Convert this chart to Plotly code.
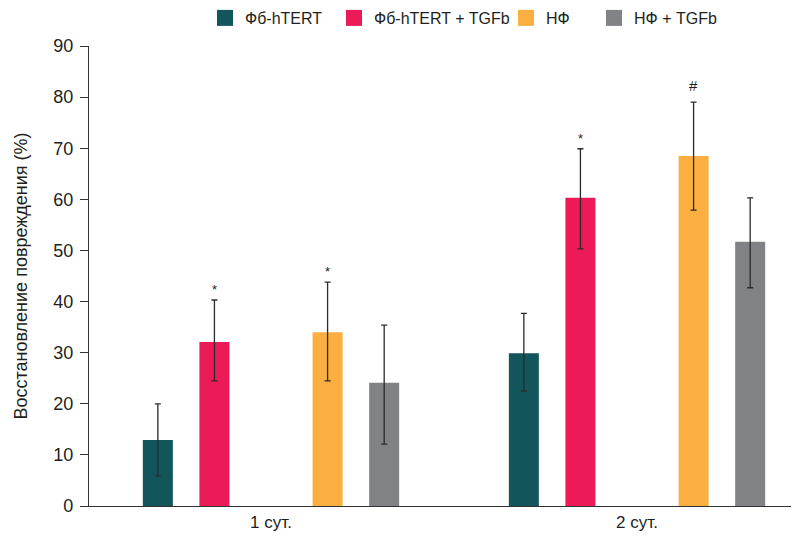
import plotly.graph_objects as go

days = ["1 сут.", "2 сут."]
series = ["Фб-hTERT", "Фб-hTERT + TGFb", "НФ", "НФ + TGFb"]
colors = ["#12555A", "#EC1A56", "#FAAF40", "#818285"]

values = {
    "Фб-hTERT": [12.9, 29.9],
    "Фб-hTERT + TGFb": [32.1, 60.3],
    "НФ": [34.0, 68.5],
    "НФ + TGFb": [24.1, 51.7],
}
err_plus = {
    "Фб-hTERT": [7.1, 7.8],
    "Фб-hTERT + TGFb": [8.2, 9.6],
    "НФ": [9.8, 10.5],
    "НФ + TGFb": [11.3, 8.6],
}
err_minus = {
    "Фб-hTERT": [7.0, 7.4],
    "Фб-hTERT + TGFb": [7.6, 10.0],
    "НФ": [9.5, 10.6],
    "НФ + TGFb": [12.0, 9.0],
}
# significance marks: (series, day index, symbol)
marks = [
    ("Фб-hTERT + TGFb", 0, "*"),
    ("НФ", 0, "*"),
    ("Фб-hTERT + TGFb", 1, "*"),
    ("НФ", 1, "#"),
]

y_title = "Восстановление повреждения (%)"
y_ticks = [0, 10, 20, 30, 40, 50, 60, 70, 80, 90]

FONT = "Liberation Sans, Arial, Helvetica, sans-serif"
TXT = "#231F20"

slot = 0.1546
slots = [-2, -1, 1, 2]
bar_w = 0.082

PAGE_OFF = 8  # default body margin of the html page
W, H = 799 - PAGE_OFF, 536 - PAGE_OFF
ml, mr, mt, mb = 89 - PAGE_OFF, 0, 46 - PAGE_OFF, 30
pw = W - ml - mr
ph = H - mt - mb

# legend positions in page pixels (left of item)
legend_px = [205, 334, 506, 594]

fig = go.Figure()
for i, s in enumerate(series):
    lname = "legend" if i == 0 else f"legend{i+1}"
    fig.add_trace(go.Bar(
        x=days,
        y=values[s],
        name=s,
        marker=dict(color=colors[i], line=dict(width=0)),
        width=bar_w,
        offset=slots[i] * slot - bar_w / 2,
        error_y=dict(
            type="data",
            symmetric=False,
            array=err_plus[s],
            arrayminus=err_minus[s],
            color="#2b2b2b",
            thickness=1.3,
            width=3,
        ),
        showlegend=False,
    ))
    # legend entry with a larger square swatch
    fig.add_trace(go.Scatter(
        x=[None],
        y=[None],
        mode="markers",
        name=s,
        marker=dict(symbol="square", size=16, color=colors[i], line=dict(width=0)),
        legend=lname,
        hoverinfo="skip",
    ))

for s, di, sym in marks:
    si = series.index(s)
    top = values[s][di] + err_plus[s][di]
    fig.add_annotation(
        x=di + slots[si] * slot,
        xref="x",
        y=top,
        yref="y",
        text=sym,
        showarrow=False,
        yanchor="bottom",
        yshift=1 if sym == "*" else 6,
        font=dict(family=FONT, size=13 if sym == "*" else 15, color=TXT),
    )

legend_common = dict(
    orientation="h",
    yanchor="middle",
    xanchor="left",
    font=dict(family=FONT, size=16, color=TXT),
    bgcolor="rgba(0,0,0,0)",
    borderwidth=0,
    tracegroupgap=0,
    itemsizing="trace",
)
legend_common["y"] = (H - mb - (18 - PAGE_OFF)) / ph
layout_legends = {}
for i in range(len(series)):
    key = "legend" if i == 0 else f"legend{i+1}"
    layout_legends[key] = dict(legend_common, x=(legend_px[i] - 89) / pw)

fig.update_layout(
    width=W,
    height=H,
    margin=dict(l=ml, r=mr, t=mt, b=mb, autoexpand=False),
    paper_bgcolor="white",
    plot_bgcolor="white",
    barmode="overlay",
    showlegend=True,
    font=dict(family=FONT, size=16, color=TXT),
    **layout_legends,
)
fig.update_xaxes(
    type="category",
    range=[-0.4973, 1.4426],
    showgrid=False,
    showline=True,
    linecolor="#333333",
    linewidth=1.2,
    ticks="",
    tickfont=dict(family=FONT, size=17, color=TXT),
    zeroline=False,
)
fig.update_yaxes(
    range=[0, 90],
    tickvals=y_ticks,
    showgrid=False,
    showline=True,
    linecolor="#333333",
    linewidth=1.2,
    ticks="outside",
    ticklen=8,
    tickwidth=1.2,
    tickcolor="#333333",
    ticklabelstandoff=3,
    tickfont=dict(family=FONT, size=18, color=TXT),
    title=dict(text=y_title, font=dict(family=FONT, size=18, color=TXT), standoff=20),
    zeroline=False,
)

fig.write_html("out.html")
